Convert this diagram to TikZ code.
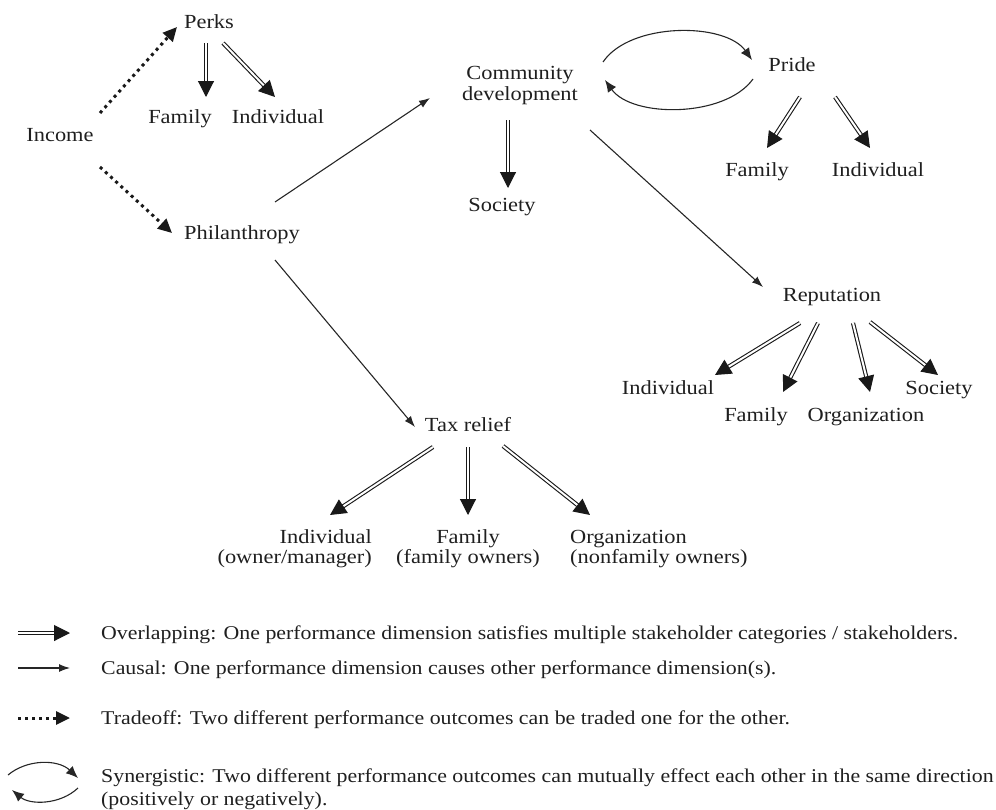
\documentclass[tikz,border=0pt]{standalone}
\usepackage{fontspec}
\setmainfont{Liberation Serif}[FakeStretch=1.12]
\usetikzlibrary{arrows.meta}
\begin{document}
\begin{tikzpicture}[x=1pt,y=-1pt,
  lbl/.style={inner sep=0pt, align=center, text height=14pt, text depth=1pt,
    font=\fontsize{20}{20}\selectfont, text=black!88},
  key/.style={inner sep=0pt, anchor=west, align=left, text height=13.5pt, text depth=1pt,
    font=\fontsize{19.5}{23}\selectfont, text=black!88},
  overlap/.style={double=white, double distance=2pt, line width=1.1pt, black!90,
    -{Triangle[length=16pt,width=16pt]}},
  causal/.style={line width=1.1pt, black!85, -{Latex[length=11pt,width=8pt]}},
  tradeoff/.style={line width=3pt, black!90, dash pattern=on 3pt off 4pt,
    -{Triangle[length=14pt,width=13pt]}},
  synergy/.style={line width=1.1pt, black!85, -{Latex[length=12pt,width=10pt]}}]
\useasboundingbox (0,0) rectangle (996,809);

% performance dimensions and stakeholders
\node[lbl] (income) at (60,135) {Income};
\node[lbl] (perks) at (209,22) {Perks};
\node[lbl] (famA) at (180,117) {Family};
\node[lbl] (indA) at (278,117) {Individual};
\node[lbl] (phil) at (242,233) {Philanthropy};
\node[lbl, font=\fontsize{20}{21}\selectfont] (comm) at (520,94) {Community\\development};
\node[lbl] (socA) at (502,205) {Society};
\node[lbl] (pride) at (792,65) {Pride};
\node[lbl] (famB) at (757,170) {Family};
\node[lbl] (indB) at (878,170) {Individual};
\node[lbl] (rep) at (832,295) {Reputation};
\node[lbl] (indC) at (668,388) {Individual};
\node[lbl] (famC) at (756,415) {Family};
\node[lbl] (orgC) at (866,415) {Organization};
\node[lbl] (socC) at (939,388) {Society};
\node[lbl] (tax) at (468,425) {Tax relief};
\node[lbl, anchor=east, align=right] (indD) at (372,557) {Individual\\(owner/manager)};
\node[lbl] (famD) at (468,557) {Family\\(family owners)};
\node[lbl, anchor=west, align=left] (orgD) at (570,557) {Organization\\(nonfamily owners)};

% tradeoffs
\draw[tradeoff] ([shift={(40,-22)}]income.center) -- ([shift={(-32,5)}]perks.center);
\draw[tradeoff] ([shift={(40,32)}]income.center) -- ([shift={(-70,0)}]phil.center);

% overlapping
\draw[overlap] ([shift={(-3,21)}]perks.center) -- ([shift={(26,-20)}]famA.center);
\draw[overlap] ([shift={(14,21)}]perks.center) -- ([shift={(-3,-20)}]indA.center);
\draw[overlap] ([shift={(-12,26)}]comm.center) -- ([shift={(6,-17)}]socA.center);
\draw[overlap] ([shift={(8,32)}]pride.center) -- ([shift={(10,-22)}]famB.center);
\draw[overlap] ([shift={(43,32)}]pride.center) -- ([shift={(-8,-22)}]indB.center);
\draw[overlap] ([shift={(-32,28)}]rep.center) -- ([shift={(47,-13)}]indC.center);
\draw[overlap] ([shift={(-14,28)}]rep.center) -- ([shift={(27,-23)}]famC.center);
\draw[overlap] ([shift={(21,28)}]rep.center) -- ([shift={(4,-23)}]orgC.center);
\draw[overlap] ([shift={(38,27)}]rep.center) -- ([shift={(-1,-13)}]socC.center);
\draw[overlap] ([shift={(-35,22)}]tax.center) -- ([shift={(-42,-42)}]indD.east);
\draw[overlap] ([shift={(0,22)}]tax.center) -- ([shift={(0,-42)}]famD.center);
\draw[overlap] ([shift={(35,21)}]tax.center) -- ([shift={(20,-42)}]orgD.west);

% causal
\draw[causal] ([shift={(33,-31)}]phil.center) -- ([shift={(-90,4)}]comm.center);
\draw[causal] ([shift={(33,27)}]phil.center) -- ([shift={(-53,2)}]tax.center);
\draw[causal] ([shift={(70,36)}]comm.center) -- ([shift={(-69,-8)}]rep.center);

% synergy
\draw[synergy] ([shift={(83,-32)}]comm.center) .. controls (630,22) and (725,22) .. ([shift={(-40,-5)}]pride.center);
\draw[synergy] ([shift={(-39,14)}]pride.center) .. controls (725,118) and (632,118) .. ([shift={(85,-14)}]comm.center);

% key
\coordinate (k1a) at (18,633); \coordinate (k1b) at (70,633);
\coordinate (k2a) at (18,668); \coordinate (k2b) at (70,668);
\coordinate (k3a) at (18,718); \coordinate (k3b) at (70,718);
\coordinate (k4a) at (8,775);  \coordinate (k4b) at (78,778);
\coordinate (k5a) at (78,788); \coordinate (k5b) at (12,790);
\draw[overlap] (k1a) -- (k1b);
\draw[causal] (k2a) -- (k2b);
\draw[tradeoff] (k3a) -- (k3b);
\draw[synergy] (k4a) .. controls (27,759) and (58,759) .. (k4b);
\draw[synergy] (k5a) .. controls (60,805) and (30,805) .. (k5b);

\node[key] (t1) at (101,633) {Overlapping: One performance dimension satisfies multiple stakeholder categories / stakeholders.};
\node[key] (t2) at (101,668) {Causal: One performance dimension causes other performance dimension(s).};
\node[key] (t3) at (101,718) {Tradeoff: Two different performance outcomes can be traded one for the other.};
\node[key] (t4) at (101,799.5) {Synergistic: Two different performance outcomes can mutually effect each other in the same direction\\(positively or negatively).};
\end{tikzpicture}
\end{document}
